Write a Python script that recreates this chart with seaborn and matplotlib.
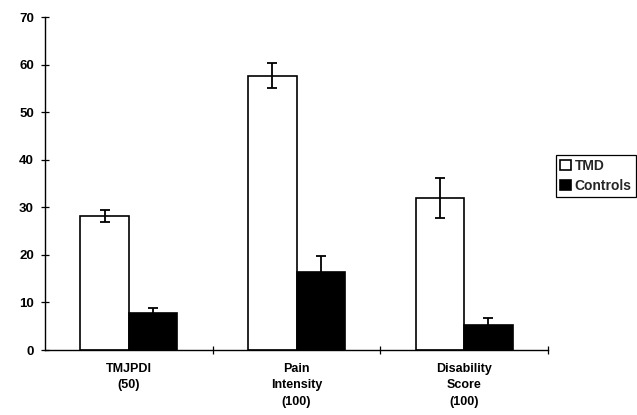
import matplotlib
matplotlib.use("Agg")
import matplotlib.pyplot as plt
import matplotlib.patches as mpatches
import seaborn as sns
import pandas as pd
import numpy as np

# Datos
categorias = ['TMJPDI\n(50)', 'Pain\nIntensity\n(100)', 'Disability\nScore\n(100)']
grupos = ['TMD', 'Controls']
tmd_media = [28.2, 57.7, 32.0]
tmd_error = [1.3, 2.6, 4.2]
controles_media = [7.8, 16.4, 5.3]
controles_error = [1.1, 3.3, 1.5]

sns.set_theme(style="white")
plt.rcParams['font.family'] = ['Liberation Sans', 'DejaVu Sans']

df = pd.DataFrame({
    'categoria': categorias * 2,
    'grupo': ['TMD'] * 3 + ['Controls'] * 3,
    'valor': tmd_media + controles_media,
})
errores = {'TMD': tmd_error, 'Controls': controles_error}

fig = plt.figure(figsize=(6.37, 4.15), dpi=100)
ax = fig.add_axes([45 / 637, 1 - 350 / 415, (548 - 45) / 637, (350 - 17) / 415])

sns.barplot(
    data=df, x='categoria', y='valor', hue='grupo',
    order=categorias, hue_order=grupos,
    palette={'TMD': 'white', 'Controls': 'black'},
    edgecolor='black', linewidth=1.2,
    width=0.58, gap=0, errorbar=None, legend=False, ax=ax
)

# Barras de error (precalculadas)
for grupo, cont in zip(grupos, ax.containers):
    xs = [p.get_x() + p.get_width() / 2 for p in cont.patches]
    ys = [p.get_height() for p in cont.patches]
    ax.errorbar(xs, ys, yerr=errores[grupo], fmt='none', ecolor='black',
                elinewidth=1.3, capsize=3.5, capthick=1.3, zorder=5)

ax.set_xlim(-0.5, 2.5)
ax.set_ylim(0, 70)
ax.set_yticks(np.arange(0, 71, 10))
ax.set_xlabel('')
ax.set_ylabel('')

for lado in ['top', 'right']:
    ax.spines[lado].set_visible(False)
for lado in ['left', 'bottom']:
    ax.spines[lado].set_color('black')
    ax.spines[lado].set_linewidth(1.0)

ax.set_xticks([0.5, 1.5, 2.5], minor=True)
ax.tick_params(axis='y', which='major', direction='inout', length=6, width=0.9,
               colors='black', labelsize=9.5, pad=5, left=True)
ax.tick_params(axis='x', which='major', length=0, labelsize=9, pad=9,
               colors='black')
ax.tick_params(axis='x', which='minor', direction='inout', length=6, width=0.9,
               bottom=True, colors='black')
for lbl in ax.get_xticklabels() + ax.get_yticklabels():
    lbl.set_fontweight('bold')
    lbl.set_linespacing(1.5)

handles = [mpatches.Patch(facecolor='white', edgecolor='black', linewidth=1.2, label='TMD'),
           mpatches.Patch(facecolor='black', edgecolor='black', linewidth=1.2, label='Controls')]
leg = fig.legend(handles=handles, loc='center left', bbox_to_anchor=(556 / 637, 1 - 176 / 415),
                 fancybox=False, frameon=True, edgecolor='black', framealpha=1,
                 handlelength=0.75, handleheight=0.75, handletextpad=0.3,
                 borderpad=0.3, labelspacing=0.4, borderaxespad=0,
                 prop={'size': 10, 'weight': 'bold'})
leg.get_frame().set_linewidth(0.9)

fig.savefig('out.png', dpi=100)
